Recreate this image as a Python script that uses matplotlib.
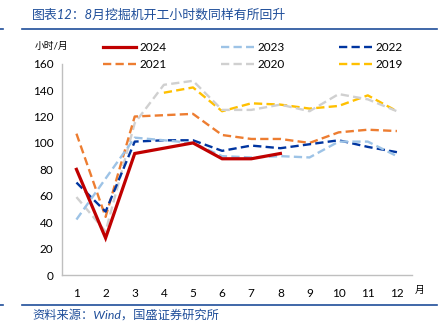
import matplotlib
matplotlib.use('Agg')
import matplotlib.pyplot as plt
from matplotlib.lines import Line2D

plt.rcParams['font.family'] = ['Lato', 'Noto Sans CJK SC', 'DejaVu Sans']

# 数据（小时/月）
months = list(range(1, 13))
y2024 = [80, 28, 92, 96, 100, 88, 88, 92]
y2023 = [42, 73, 104, 102, 100, 90, 89, 90, 89, 101, 101, 90]
y2022 = [70, 48, 101, 102, 102, 94, 98, 96, 99, 102, 97, 93]
y2021 = [107, 44, 120, 121, 122, 106, 103, 103, 100, 108, 110, 109]
y2020 = [59, 33, 115, 144, 147, 125, 125, 129, 124, 137, 133, 124]
y2019 = [None, None, None, 138, 142, 124, 130, 129, 126, 128, 136, 124]

series = [
    ('2024', y2024, '#c00000', '-'),
    ('2023', y2023, '#9dc3e6', '--'),
    ('2022', y2022, '#0035a0', '--'),
    ('2021', y2021, '#ed7d31', '--'),
    ('2020', y2020, '#d0d0d0', '--'),
    ('2019', y2019, '#ffc000', '--'),
]

fig = plt.figure(figsize=(4.42, 3.36), dpi=100)
ax = fig.add_axes([0.140, 0.1815, 0.791, 0.629])

# draw order: older years underneath
for name, vals, color, ls in reversed(series):
    xs = [m for m, v in zip(months, vals) if v is not None]
    ys = [v for v in vals if v is not None]
    if ls == '-':
        ax.plot(xs, ys, color=color, lw=2.3, solid_joinstyle='miter', zorder=10)
    else:
        ax.plot(xs, ys, color=color, lw=1.7, dashes=(3.5, 1.8), zorder=5)

ax.set_xlim(0.5, 12.5)
ax.set_ylim(0, 160)
ax.set_xticks(months)
ax.set_yticks(range(0, 161, 20))
ax.tick_params(length=0, labelsize=8.5, pad=6)
ax.tick_params(axis='x', pad=9)
for s in ['top', 'right']:
    ax.spines[s].set_visible(False)
for s in ['left', 'bottom']:
    ax.spines[s].set_color('#bfbfbf')
    ax.spines[s].set_linewidth(1.0)

fig.text(35 / 442, 1 - 46 / 336, '小时/月', fontsize=7, va='center', ha='left')
fig.text(415 / 442, 1 - 290 / 336, '月', fontsize=7, va='center', ha='left')

# legend (3 columns x 2 rows)
handles = []
for name, vals, color, ls in series:
    if ls == '-':
        handles.append(Line2D([], [], color=color, lw=2.3))
    else:
        handles.append(Line2D([], [], color=color, lw=1.7, dashes=(3.5, 1.8)))
order = [0, 3, 1, 4, 2, 5]
fig.legend([handles[i] for i in order], [series[i][0] for i in order],
           ncol=3, loc='center left', bbox_to_anchor=(92 / 442, 1 - 56 / 336),
           frameon=False, fontsize=8.5, handlelength=2.8, columnspacing=4.6,
           handletextpad=0.3, labelspacing=0.55)

# header & footer
blue = '#1f4e9a'
fig.text(32 / 442, 1 - 15 / 336, '图表12：8月挖掘机开工小时数同样有所回升',
         fontsize=9.3, color=blue, style='italic', va='center', ha='left')
fig.add_artist(Line2D([22 / 442, 437 / 442], [1 - 29 / 336] * 2, color=blue, lw=1.2))
fig.add_artist(Line2D([0, 3 / 442], [1 - 29 / 336] * 2, color=blue, lw=1.2))
fig.add_artist(Line2D([22 / 442, 437 / 442], [1 - 305 / 336] * 2, color=blue, lw=1.2))
fig.add_artist(Line2D([0, 3 / 442], [1 - 305 / 336] * 2, color=blue, lw=1.2))
fig.text(32 / 442, 1 - 315 / 336, '资料来源：Wind，国盛证券研究所',
         fontsize=8.8, color=blue, style='italic', va='center', ha='left')

fig.savefig('out.png', dpi=100)
